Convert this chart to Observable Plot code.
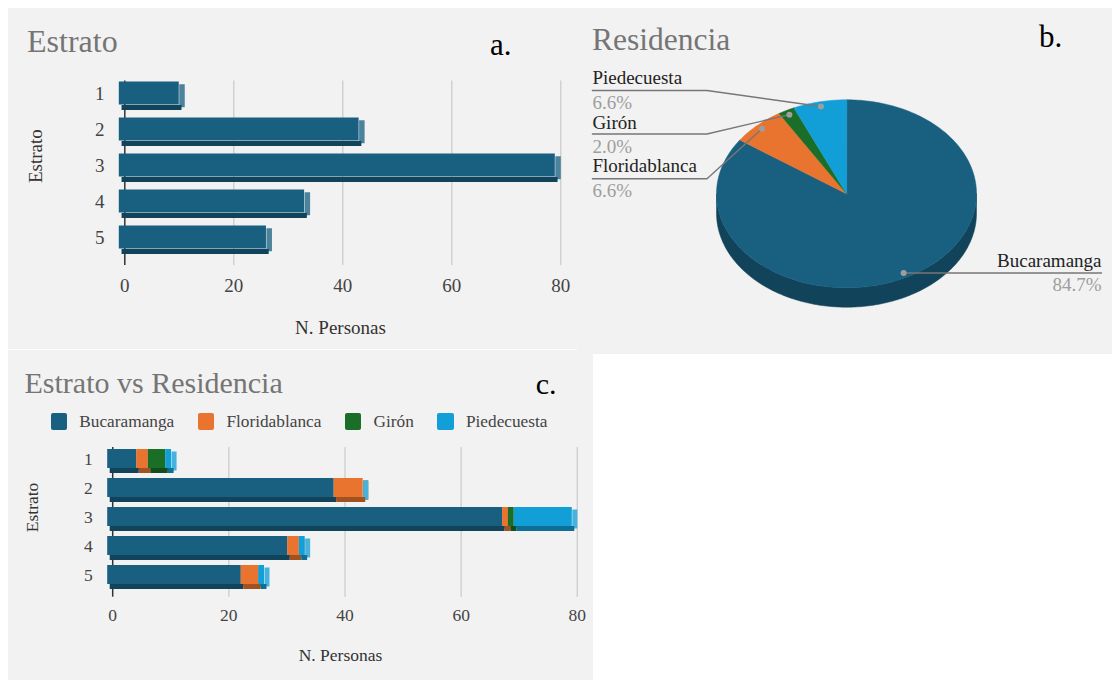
<!DOCTYPE html>
<html>
<head>
<meta charset="utf-8">
<script src="https://cdn.jsdelivr.net/npm/d3@7"></script>
<script src="https://cdn.jsdelivr.net/npm/@observablehq/plot@0.6"></script>
<style>
  body { margin: 0; background: #ffffff; font-family: "Liberation Serif", "Times New Roman", serif; }
  #page { position: relative; width: 1112px; height: 680px; overflow: hidden; font-family: "Liberation Serif", serif; }
  .panel { position: absolute; background: #f2f2f2; overflow: hidden; font-family: "Liberation Serif", serif; }
  .panel svg { position: absolute; left: 0; top: 0; font-family: "Liberation Serif", serif; }
  .t { position: absolute; white-space: nowrap; line-height: 1; font-family: "Liberation Serif", serif; }
  .legend { position: absolute; display: flex; align-items: center; gap: 23.5px; font-family: "Liberation Serif", serif; }
  .legend .item { display: flex; align-items: center; gap: 12px; color: #444; }
  .legend .sw { width: 16.6px; height: 16.6px; border-radius: 2px; }
</style>
</head>
<body>
<div id="page"></div>
<script>
// ---------- data ----------
const estratos = ["1", "2", "3", "4", "5"];
const personasPorEstrato = [11, 44, 80, 34, 27];

const ciudades = ["Bucaramanga", "Floridablanca", "Girón", "Piedecuesta"];
const coloresCiudad = ["#185f80", "#e8742f", "#1b6e27", "#129ed6"];
const residenciaPersonas = [166, 13, 4, 13];

const bucaramangaPorEstrato = [5, 39, 68, 31, 23];
const floridablancaPorEstrato = [2, 5, 1, 2, 3];
const gironPorEstrato = [3, 0, 1, 0, 0];
const piedecuestaPorEstrato = [1, 0, 10, 1, 1];

const xTicks = [0, 20, 40, 60, 80];

// ---------- tables ----------
const colorBarra = coloresCiudad[0];
const tablaEstrato = estratos.map((e, i) => ({estrato: e, value: personasPorEstrato[i], color: colorBarra}));
const seriesCiudad = [bucaramangaPorEstrato, floridablancaPorEstrato, gironPorEstrato, piedecuestaPorEstrato];
const tablaCruce = estratos.flatMap((e, i) =>
  ciudades.map((c, j) => ({estrato: e, ciudad: c, value: seriesCiudad[j][i], color: coloresCiudad[j]}))
);

// ---------- helpers ----------
const page = document.getElementById("page");
const SERIF = "Liberation Serif";

function panel(left, top, width, height) {
  const d = document.createElement("div");
  d.className = "panel";
  Object.assign(d.style, {left: left + "px", top: top + "px", width: width + "px", height: height + "px"});
  page.append(d);
  return d;
}
function label(parent, text, x, baseline, size, color) {
  const s = document.createElement("div");
  s.className = "t";
  s.textContent = text;
  s.style.fontSize = size + "px";
  s.style.color = color;
  s.style.left = x + "px";
  s.style.top = (baseline - 0.8375 * size) + "px";
  parent.append(s);
}
const bottomShade = c => d3.color(c).darker(1).formatHex();
const sideShade = c => d3.interpolateRgb(c, "#ffffff")(0.22);

function bandwidthOf(range, n, pi, po) {
  const step = (range[1] - range[0]) / (n - pi + 2 * po);
  return step * (1 - pi);
}

// extruded horizontal bars: end cap, underside, then front face
function prismBars(data, depth, bandwidth) {
  const base = {x: "value", y: "estrato", order: null};
  return [
    Plot.tickX(data, Plot.stackX2({...base, stroke: d => sideShade(d.color), strokeWidth: depth, dx: -depth / 2, dy: -depth / 2})),
    Plot.barX(data, Plot.stackX({...base, fill: d => bottomShade(d.color), insetTop: bandwidth - depth, dx: -depth / 2})),
    Plot.barX(data, Plot.stackX({...base, fill: "color", dx: -depth, dy: -depth}))
  ];
}

function barChart(data, L) {
  const bw = bandwidthOf(L.yRange, estratos.length, L.pi, L.po);
  return Plot.plot({
    width: L.W, height: L.H,
    marginLeft: L.left, marginRight: L.right, marginTop: L.top, marginBottom: L.bottom,
    x: {domain: [0, 80]},
    y: {domain: estratos, range: L.yRange, paddingInner: L.pi, paddingOuter: L.po},
    color: {type: "identity"},
    style: {background: "transparent", color: "#444", overflow: "visible"},
    marks: [
      Plot.ruleX(xTicks.filter(t => t > 0), {stroke: "#cccccc", strokeWidth: 1.3}),
      Plot.ruleX([0], {stroke: "#333333", strokeWidth: 1.5}),
      ...prismBars(data, L.depth, bw),
      Plot.axisX(xTicks, {tickSize: 0, tickPadding: L.xPad, fontSize: L.font, fontFamily: SERIF, label: null}),
      Plot.axisY({tickSize: 0, tickPadding: L.yPad, dy: -L.depth, fontSize: L.font, fontFamily: SERIF, label: null}),
      Plot.text(["N. Personas"], {text: d => d, frameAnchor: "bottom", dx: L.xLabel[0], dy: L.xLabel[1], fontSize: L.font, fontFamily: SERIF, fill: "#333"}),
      Plot.text(["Estrato"], {text: d => d, frameAnchor: "left", dx: L.yLabel[0], dy: L.yLabel[1], rotate: -90, fontSize: L.font, fontFamily: SERIF, fill: "#333"})
    ]
  });
}

// ---------- a. Estrato ----------
const pa = panel(8, 8, 569, 341);
label(pa, "Estrato", 19, 43.7, 32, "#757575");
label(pa, "a.", 482, 47, 31, "#000000");
pa.append(barChart(tablaEstrato, {
  W: 569, H: 341, left: 116.3, right: 16.7, top: 72.5, bottom: 84,
  yRange: [72.2, 252.6], pi: 0.349, po: 0.1745, depth: 5.5, font: 19,
  xPad: 12.8, yPad: 20.3, xLabel: [-2.3, 68.3], yLabel: [-88.6, 9.75]
}));

// ---------- b. Residencia ----------
const pb = panel(577, 8, 535, 346);
label(pb, "Residencia", 15, 42, 31.5, "#757575");
label(pb, "b.", 462, 38.7, 31, "#000000");

const B = {W: 535, H: 346, cx: 269, cy: 185.3, rx: 130, ry: 94, depth: 19.4, dotK: 0.95, font: 19};
const total = d3.sum(residenciaPersonas);
const arcs = d3.pie().sort(null).value(d => d)(residenciaPersonas);
const ell = (t, k = 1, drop = 0) => [B.cx + k * B.rx * Math.sin(t), B.cy - k * B.ry * Math.cos(t) + drop];
const arcPts = (a0, a1, drop = 0) => {
  const n = Math.max(2, Math.ceil((a1 - a0) / (Math.PI / 180)));
  return d3.range(n + 1).map(i => ell(a0 + (a1 - a0) * i / n, 1, drop));
};
const slices = arcs.map((a, i) => ({
  color: coloresCiudad[i],
  geometry: {type: "Polygon", coordinates: [[[B.cx, B.cy], ...arcPts(a.startAngle, a.endAngle), [B.cx, B.cy]]]}
}));
const walls = arcs.flatMap((a, i) => {
  const lo = Math.max(a.startAngle, Math.PI / 2), hi = Math.min(a.endAngle, 3 * Math.PI / 2);
  if (hi <= lo) return [];
  const top = arcPts(lo, hi), bot = arcPts(lo, hi, B.depth).reverse();
  return [{color: bottomShade(coloresCiudad[i]), geometry: {type: "Polygon", coordinates: [[...top, ...bot, top[0]]]}}];
});

const pieLabelLayout = {
  "Piedecuesta":   {x: 14.9, nameY: 75.3,  pctY: 100.3, lineY: 82,    elbow: 129.5, anchor: "start"},
  "Girón":         {x: 14.9, nameY: 120.3, pctY: 144.7, lineY: 125.5, elbow: 129.5, anchor: "start"},
  "Floridablanca": {x: 14.9, nameY: 163.7, pctY: 188.7, lineY: 170.3, elbow: 129.5, anchor: "start"},
  "Bucaramanga":   {x: 524,  nameY: 258,   pctY: 282,   anchor: "end"}
};
const pieLabels = arcs.map((a, i) => {
  const dot = ell((a.startAngle + a.endAngle) / 2, B.dotK);
  const share = (residenciaPersonas[i] / total * 100).toFixed(1) + "%";
  return {...pieLabelLayout[ciudades[i]], ciudad: ciudades[i], share, dot};
});
const leader = pieLabels.flatMap(d => {
  const pts = d.anchor === "start"
    ? [[d.x, d.lineY], [d.elbow, d.lineY], d.dot]
    : [d.dot, [d.x, d.dot[1]]];
  return pts.map(([x, y]) => ({ciudad: d.ciudad, x, y}));
});
const lift = B.font * 0.32;
const textMarks = anchor => {
  const rows = pieLabels.filter(d => d.anchor === anchor);
  return [
    Plot.text(rows, {x: d => d.x, y: d => d.nameY - lift, text: "ciudad", textAnchor: anchor, fontSize: B.font, fontFamily: SERIF, fill: "#222222"}),
    Plot.text(rows, {x: d => d.x, y: d => d.pctY - lift, text: "share", textAnchor: anchor, fontSize: B.font, fontFamily: SERIF, fill: "#9e9e9e"})
  ];
};

pb.append(Plot.plot({
  width: B.W, height: B.H, margin: 0,
  projection: {type: "identity", domain: {type: "MultiPoint", coordinates: [[0, 0], [B.W, B.H]]}, inset: 0},
  color: {type: "identity"},
  style: {background: "transparent", overflow: "visible"},
  marks: [
    Plot.geo(walls, {geometry: d => d.geometry, fill: "color", stroke: "color", strokeWidth: 0.5}),
    Plot.geo(slices, {geometry: d => d.geometry, fill: "color", stroke: "color", strokeWidth: 0.5}),
    Plot.line(leader, {x: "x", y: "y", z: "ciudad", stroke: "#777777", strokeWidth: 1.4}),
    Plot.dot(pieLabels, {x: d => d.dot[0], y: d => d.dot[1], r: 3, fill: "#9e9e9e", stroke: "none"}),
    ...textMarks("start"),
    ...textMarks("end")
  ]
}));

// ---------- c. Estrato vs Residencia ----------
const pc = panel(8, 350, 585, 330);
label(pc, "Estrato vs Residencia", 16.5, 43.3, 30, "#757575");
label(pc, "c.", 527.8, 44.3, 30, "#000000");

const legend = document.createElement("div");
legend.className = "legend";
Object.assign(legend.style, {left: "42.7px", top: "61.7px", fontSize: "17.3px"});
ciudades.forEach((c, i) => {
  const item = document.createElement("div");
  item.className = "item";
  const sw = document.createElement("div");
  sw.className = "sw";
  sw.style.background = coloresCiudad[i];
  const tx = document.createElement("span");
  tx.textContent = c;
  item.append(sw, tx);
  legend.append(item);
});
pc.append(legend);

pc.append(barChart(tablaCruce, {
  W: 585, H: 330, left: 104.2, right: 16.2, top: 97, bottom: 83.3,
  yRange: [97.45, 244.95], pi: 0.356, po: 0.178, depth: 5, font: 17.5,
  xPad: 11.65, yPad: 20, xLabel: [-4.5, 63.3], yLabel: [-79.9, 9.85]
}));
</script>
</body>
</html>
